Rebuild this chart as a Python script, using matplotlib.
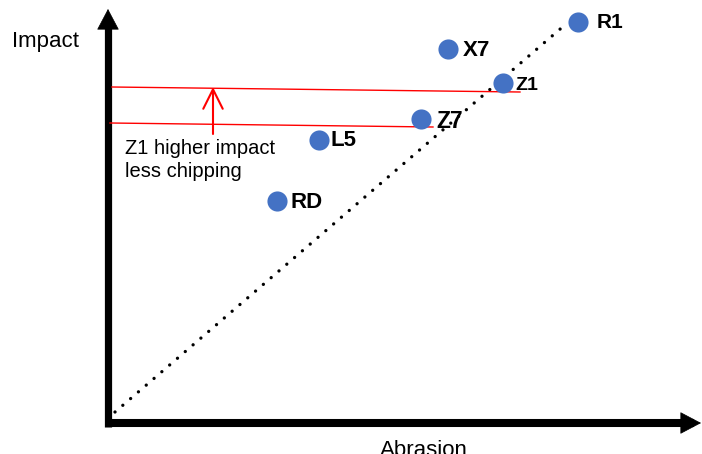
import matplotlib
matplotlib.use('Agg')
import matplotlib.pyplot as plt
from matplotlib.patches import FancyArrowPatch

plt.rcParams['font.family'] = ['Liberation Sans', 'DejaVu Sans']

# products: abrasion (x) vs impact (y), arbitrary units
names = ['R1', 'X7', 'Z1', 'Z7', 'L5', 'RD']
abrasion = [474, 344, 399, 317, 215, 173]
impact = [401, 374, 340, 304, 283, 222]

# trend line and the two reference levels
trend_x = [11, 462]
trend_y = [11, 399]
z1_level_x = [8, 416]
z1_level_y = [336, 331]
z7_level_x = [6, 329]
z7_level_y = [300, 296]

label_dx = [19, 15, 12, 15, 12, 14]
label_dy = [-1, -1, -2, -3, -1, -1]
label_size = [15, 16, 14, 16.5, 16, 16]

fig = plt.figure(figsize=(7.02, 4.54), dpi=100)
ax = fig.add_axes([0, 0, 1, 1])
ax.set_xlim(-104, 598)
ax.set_ylim(-31, 423)
ax.axis('off')

# axes: thick shaft + filled head
ax.plot([4, 4], [-4, 400], color='black', lw=5.2, solid_capstyle='butt')
ax.plot([1, 590], [0, 0], color='black', lw=5.8, solid_capstyle='butt')
for start, end in [((4, 380), (4, 414)), ((560, 0), (597, 0))]:
    ax.add_patch(FancyArrowPatch(start, end, arrowstyle='-|>,head_length=14,head_width=7.4',
                                 mutation_scale=1, lw=0.5, color='black',
                                 shrinkA=0, shrinkB=0))

ax.plot(trend_x, trend_y, color='black', lw=2.4,
        linestyle=(0, (0.01, 3.08)), dash_capstyle='round')

ax.plot(z1_level_x, z1_level_y, color='red', lw=1)
ax.plot(z7_level_x, z7_level_y, color='red', lw=1)
ax.add_patch(FancyArrowPatch((109, 289), (109, 336), arrowstyle='->,head_length=14,head_width=7',
                             mutation_scale=1, lw=1.5, color='red', shrinkA=0, shrinkB=0))

ax.scatter(abrasion, impact, s=210, color='#4472C4', zorder=3, linewidths=0)
for n, x, y, dx, dy, fs in zip(names, abrasion, impact, label_dx, label_dy, label_size):
    ax.annotate(n, (x, y), xytext=(dx * 0.72, dy * 0.72), textcoords='offset points',
                ha='left', va='center', fontsize=fs, fontweight='bold')

ax.text(21, 246, 'Z1 higher impact\nless chipping', fontsize=14.5,
        ha='left', va='baseline', linespacing=1.25)
ax.text(-92, 376, 'Impact', fontsize=16, ha='left', va='baseline')
ax.text(320, -33, 'Abrasion', fontsize=16, ha='center', va='baseline', clip_on=False)

fig.savefig('out.png', dpi=100)
